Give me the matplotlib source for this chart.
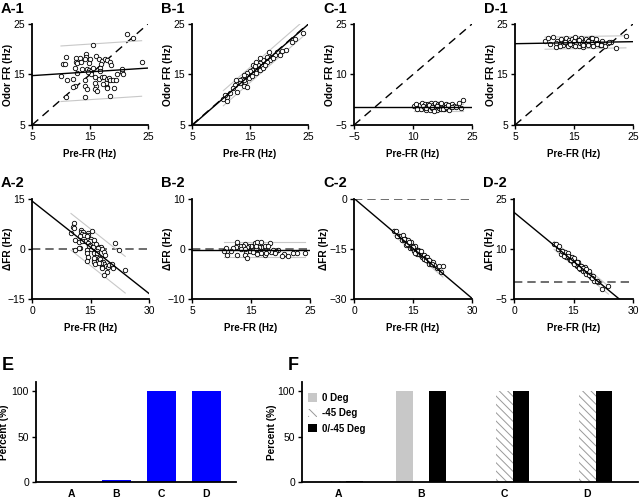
import numpy as np
import matplotlib
matplotlib.use("Agg")
import matplotlib.pyplot as plt

plt.rcParams['font.family'] = ['Liberation Sans', 'DejaVu Sans']
plt.rcParams['hatch.color'] = '#888888'
plt.rcParams['hatch.linewidth'] = 0.7

# ---------------- data ----------------
A1_pre = [21.4, 22.4, 15.5, 23.9, 10.8, 12.5, 12.5, 13.2, 12.7, 13.4, 14.3, 14.3, 14.1, 15.0,
          14.9, 10.4, 10.7, 12.4, 13.7, 14.4, 14.8, 16.0, 16.5, 17.1, 17.6, 18.0, 16.9, 16.7,
          18.5, 18.6, 15.2, 15.1, 14.7, 10.0, 11.1, 12.0, 12.7, 14.1, 14.1, 12.4, 12.1, 14.4,
          16.0, 15.9, 16.2, 15.8, 16.5, 17.1, 17.4, 18.0, 18.3, 18.5, 19.0, 19.4, 19.7, 20.5,
          20.7, 20.5, 18.0, 18.0, 19.2, 17.7, 17.2, 10.9, 14.2, 18.5, 15.9, 16.7, 15.6]
A1_odor = [23.1, 22.2, 20.9, 17.5, 18.5, 18.3, 17.5, 18.3, 17.2, 17.5, 19.0, 18.5, 18.0, 18.0,
           17.2, 17.0, 17.0, 16.2, 16.1, 16.1, 15.9, 18.7, 18.1, 17.7, 18.1, 17.9, 17.1, 16.2,
           17.5, 16.8, 15.7, 15.1, 15.5, 14.8, 13.9, 14.2, 15.2, 13.9, 12.8, 12.7, 12.5, 12.1,
           12.7, 12.1, 11.7, 14.6, 14.2, 14.5, 14.5, 14.2, 14.4, 13.9, 13.9, 13.9, 15.0, 15.4,
           15.0, 16.0, 12.5, 12.3, 12.3, 13.4, 13.1, 10.5, 10.6, 10.8, 13.3, 15.6, 16.2]

B1_pre = [24.1, 22.8, 22.2, 21.2, 20.6, 19.6, 18.2, 19.3, 18.7, 18.4, 17.9, 17.3, 16.7, 17.0,
          16.4, 16.1, 15.9, 16.7, 17.3, 15.3, 15.0, 14.5, 14.3, 13.9, 13.6, 13.2, 12.7, 12.6,
          13.3, 14.1, 13.9, 14.4, 12.4, 12.0, 12.7, 11.6, 11.0, 10.7, 10.4, 11.0, 15.6, 15.9,
          14.8, 15.3, 16.1, 17.6, 19.0, 20.2, 16.1, 16.7, 17.9, 13.9]
B1_odor = [23.3, 22.0, 21.5, 19.9, 19.7, 19.4, 19.5, 18.9, 18.5, 17.9, 17.5, 17.9, 17.2, 16.6,
           16.9, 16.2, 15.9, 15.9, 16.2, 15.9, 15.6, 15.2, 14.7, 14.9, 14.2, 13.9, 13.6, 14.0,
           13.3, 13.6, 12.7, 12.6, 12.9, 12.3, 11.6, 11.3, 10.6, 10.9, 10.1, 9.8, 16.9, 16.6,
           14.4, 14.7, 15.2, 16.9, 18.2, 18.9, 17.5, 18.2, 18.5, 14.0]

C1_pre = [10.2, 10.8, 11.3, 11.9, 12.1, 12.4, 12.8, 13.0, 13.2, 13.5, 13.7, 13.9, 14.1, 14.3,
          14.5, 14.6, 14.8, 15.0, 15.1, 15.3, 15.5, 15.6, 15.8, 16.0, 16.1, 16.3, 16.4, 16.6,
          16.8, 16.9, 17.1, 17.2, 17.4, 17.6, 17.8, 17.9, 18.1, 18.3, 18.5, 18.7, 18.9, 19.1,
          19.4, 19.7, 20.0, 20.4, 21.0, 21.6, 22.1, 22.6, 11.0, 12.6, 13.4, 14.0, 14.9, 15.4,
          16.2, 17.0, 17.7, 18.4, 19.0, 19.8]
C1_odor = [0.6, 1.2, 0.1, 0.9, -0.3, 1.5, 0.4, 1.1, -0.6, 0.7, 1.3, 0.2, 0.9, -0.4,
           1.6, 0.5, 0.0, 1.0, 0.3, -0.2, 0.8, 1.4, 0.1, 0.6, -0.5, 1.1, 0.4, 0.0,
           0.9, 1.3, 0.2, -0.3, 0.7, 0.5, 1.0, -0.1, 0.3, 0.8, 1.2, 0.0, 0.6, -0.4,
           0.9, 0.2, 1.1, 0.5, 0.3, 1.4, 0.1, 2.4, -0.2, 0.6, 0.0, 1.0, 0.4, -0.8,
           0.7, 1.5, -0.3, 0.2, 0.8, 0.4]

D1_pre = [10.1, 10.6, 11.0, 11.4, 11.9, 12.2, 12.5, 12.8, 13.1, 13.3, 13.6, 13.8, 14.0, 14.2,
          14.4, 14.6, 14.8, 15.0, 15.2, 15.4, 15.6, 15.8, 16.0, 16.2, 16.4, 16.6, 16.8, 17.0,
          17.2, 17.4, 17.6, 17.8, 18.0, 18.2, 18.5, 18.8, 19.1, 19.4, 19.8, 20.2, 20.8, 21.3,
          22.2, 23.8, 12.0, 12.7, 13.5, 14.3, 15.1, 15.9, 16.5, 17.3, 18.1, 18.9, 19.6, 21.0]
D1_odor = [21.6, 22.2, 21.0, 22.4, 20.4, 21.7, 21.1, 22.0, 20.8, 21.5, 22.3, 21.2, 20.7, 21.9,
           21.4, 22.1, 20.9, 21.6, 22.4, 21.0, 21.8, 20.6, 21.3, 22.2, 21.1, 20.5, 21.7, 22.0,
           21.2, 20.8, 21.9, 22.3, 21.4, 20.6, 21.8, 22.1, 21.3, 20.9, 21.6, 20.7, 21.2, 21.5,
           20.3, 22.6, 21.3, 20.6, 21.4, 21.0, 20.7, 21.9, 20.9, 21.6, 22.2, 21.1, 20.8, 21.4]

# fits: (intercept at x=0, slope, band half-width)
fit_A = (14.4, 0.075, 5.5)
fit_B = (-0.1, 1.0, 1.5)
fit_C = (0.2, 0.0, 1.0)
fit_D = (21.0, 0.02, 1.2)

# bar charts
cats = ['A', 'B', 'C', 'D']
E_percent = [0, 2, 100, 100]
F_0deg = [0, 100, 0, 0]
F_45deg = [1, 0, 100, 100]
F_both = [1, 100, 100, 100]

# ---------------- layout ----------------
W, H = 640, 499
fig = plt.figure(figsize=(6.4, 4.99), dpi=100)


def add_ax(x0, x1, ytop, ybot):
    return fig.add_axes([x0 / W, 1 - ybot / H, (x1 - x0) / W, (ybot - ytop) / H])


def style(ax):
    for s in ('top', 'right'):
        ax.spines[s].set_visible(False)
    for s in ('left', 'bottom'):
        ax.spines[s].set_linewidth(1.3)
    ax.tick_params(direction='out', length=3, width=1, labelsize=7.5, pad=2, colors='black')


def ylabel_at(ax, text, right_px, x0, x1):
    ax.set_ylabel(text, fontsize=7.3, fontweight='bold')
    ax.yaxis.set_label_coords((right_px - x0) / (x1 - x0), 0.5)


FS_X = 7
cols1 = [(32, 148), (192, 308), (354, 472), (515, 633)]
cols2 = [(32, 149), (192, 310), (354, 472), (514, 633)]
ylab_off2 = [19, 19, 25, 19]
names = ['A', 'B', 'C', 'D']
pre_all = [A1_pre, B1_pre, C1_pre, D1_pre]
odor_all = [A1_odor, B1_odor, C1_odor, D1_odor]
fits = [fit_A, fit_B, fit_C, fit_D]
lims1 = [(5, 25), (5, 25), (-5, 25), (5, 25)]
ticks1 = [[5, 15, 25], [5, 15, 25], [-5, 10, 25], [5, 15, 25]]
xlims2 = [(0, 30), (5, 25), (0, 30), (0, 30)]
xticks2 = [[0, 15, 30], [5, 15, 25], [0, 15, 30], [0, 15, 30]]
ylims2 = [(-15, 15), (-10, 10), (-30, 0), (-5, 25)]
yticks2 = [[-15, 0, 15], [-10, 0, 10], [-30, -15, 0], [-5, 10, 25]]

mk = dict(marker='o', ls='none', ms=3.2, mfc='white', mec='black', mew=0.6, zorder=3)

for i in range(4):
    pre = np.array(pre_all[i])
    odor = np.array(odor_all[i])
    b0, b1, band = fits[i]
    # ---- row 1 ----
    x0, x1 = cols1[i]
    ax = add_ax(x0, x1, 24, 125)
    lo, hi = lims1[i]
    xs = np.array([lo, hi])
    ax.plot(xs, xs, color='black', lw=1.0, dashes=(6, 4), zorder=1)
    xb = np.array([pre.min(), pre.max()])
    ax.plot(xb, b0 + b1 * xb + band, color='#c8c8c8', lw=0.8, zorder=1)
    ax.plot(xb, b0 + b1 * xb - band, color='#c8c8c8', lw=0.8, zorder=1)
    ax.plot(pre, odor, **mk)
    ax.plot(xs, b0 + b1 * xs, color='black', lw=1.0, zorder=4)
    ax.set_xlim(lo, hi)
    ax.set_ylim(lo, hi)
    ax.set_xticks(ticks1[i])
    ax.set_yticks(ticks1[i])
    style(ax)
    ax.set_xlabel('Pre-FR (Hz)', fontsize=FS_X, fontweight='bold', labelpad=5)
    ylabel_at(ax, 'Odor FR (Hz)', x0 - 19, x0, x1)
    fig.text((x0 - 31) / W, 1 - 9 / H, names[i] + '-1', fontsize=10.5,
             fontweight='bold', va='center', ha='left')
    # ---- row 2 ----
    x0, x1 = cols2[i]
    ax = add_ax(x0, x1, 199, 299)
    delta = odor - pre
    lo2, hi2 = xlims2[i]
    xs2 = np.array([lo2, hi2])
    ax.plot(xs2, [0, 0], color='#555555', lw=1.2, dashes=(5, 3), zorder=1)
    ax.plot(xb, b0 + (b1 - 1) * xb + band, color='#c8c8c8', lw=0.8, zorder=1)
    ax.plot(xb, b0 + (b1 - 1) * xb - band, color='#c8c8c8', lw=0.8, zorder=1)
    ax.plot(pre, delta, **mk)
    ax.plot(xs2, b0 + (b1 - 1) * xs2, color='black', lw=1.0, zorder=4)
    ax.set_xlim(lo2, hi2)
    ax.set_ylim(*ylims2[i])
    ax.set_xticks(xticks2[i])
    ax.set_yticks(yticks2[i])
    style(ax)
    ax.set_xlabel('Pre-FR (Hz)', fontsize=FS_X, fontweight='bold', labelpad=5)
    ylabel_at(ax, '\u0394FR (Hz)', x0 - ylab_off2[i], x0, x1)
    fig.text((x0 - 31) / W, 1 - 183 / H, names[i] + '-2', fontsize=10.5,
             fontweight='bold', va='center', ha='left')

# ---- E ----
x0, x1 = 36, 236
ax = add_ax(x0, x1, 382, 482)
x = np.arange(len(cats))
ax.bar(x, E_percent, width=0.64, color='#0000ff', zorder=2)
ax.set_xlim(-0.78, 3.66)
ax.set_ylim(0, 110)
ax.set_yticks([0, 50, 100])
ax.set_xticks(x)
ax.set_xticklabels(cats, fontweight='bold', fontsize=7)
style(ax)
ax.tick_params(axis='x', length=0, pad=5)
ylabel_at(ax, 'Percent (%)', x0 - 27, x0, x1)
fig.text(2 / W, 1 - 365 / H, 'E', fontsize=13, fontweight='bold', va='center', ha='left')

# ---- F ----
x0, x1 = 302, 638
ax = add_ax(x0, x1, 382, 482)
w = 0.2
ax.bar(x - w, F_0deg, width=w, color='#c8c8c8', label='0 Deg', zorder=2)
ax.bar(x, F_45deg, width=w, color='white', hatch='\\\\\\\\', edgecolor='#999999', lw=0,
       label='-45 Deg', zorder=2)
ax.bar(x + w, F_both, width=w, color='black', label='0/-45 Deg', zorder=2)
ax.set_xlim(-0.434, 3.61)
ax.set_ylim(0, 110)
ax.set_yticks([0, 50, 100])
ax.set_xticks(x)
ax.set_xticklabels(cats, fontweight='bold', fontsize=7)
style(ax)
ax.tick_params(axis='x', length=0, pad=5)
ylabel_at(ax, 'Percent (%)', x0 - 25, x0, x1)
leg = ax.legend(loc='upper left', bbox_to_anchor=(0.0, 0.95), frameon=False,
                prop={'size': 7, 'weight': 'bold'}, handlelength=0.9, handleheight=0.9,
                handletextpad=0.6, labelspacing=0.55, borderaxespad=0.2)
fig.text(293 / W, 1 - 365 / H, 'F', fontsize=13, fontweight='bold', va='center', ha='center')

fig.savefig('out.png', dpi=100)
